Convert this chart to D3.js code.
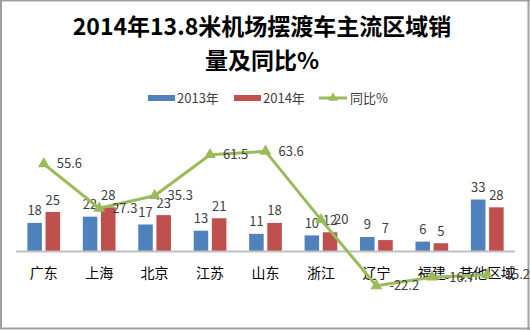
<!DOCTYPE html>
<html><head><meta charset="utf-8">
<script src="https://cdn.jsdelivr.net/npm/d3@7/dist/d3.min.js"></script>
<style>html,body{margin:0;padding:0;background:#fff;}svg{display:block;}</style>
</head><body>
<script>
const categories = ["广东","上海","北京","江苏","山东","浙江","辽宁","福建","其他区域"];
const sales2013 = [18,22,17,13,11,10,9,6,33];
const sales2014 = [25,28,23,21,18,12,7,5,28];
const yoy = [55.6,27.3,35.3,61.5,63.6,20,-22.2,-16.7,-15.2];
const seriesNames = ["2013年","2014年","同比%"];
const titleLines = ["2014年13.8米机场摆渡车主流区域销","量及同比%"];

const W=530,H=330;
const colors={"2013年":"#4F81BD","2014年":"#C0504D","同比%":"#9BBB59"};
const font="'Noto Sans CJK SC','Noto Sans',sans-serif";
const svg=d3.select("body").append("svg").attr("width",W).attr("height",H);
svg.append("rect").attr("width",W).attr("height",H).attr("fill","#fff");
// border
svg.append("path").attr("d","M1,0V329M0,0.5H530M528.5,0V330M0,328.5H530").attr("stroke","#a0a0a0").attr("stroke-width",2).attr("fill","none");

// title
svg.append("g").selectAll("text").data(titleLines).join("text")
  .attr("x",262).attr("y",(d,i)=>35+i*34).attr("text-anchor","middle")
  .attr("font-family",font).attr("font-weight","bold").attr("font-size",23).attr("fill","#000")
  .text(d=>d);

const x0=d3.scaleBand().domain(categories).range([16,515]);
const bw=x0.bandwidth();
const x1=d3.scaleBand().domain(["2013年","2014年"]).range([0.205*bw,0.795*bw]).paddingInner(0.2);
const yBar=d3.scaleLinear().domain([0,40]).range([251,188.6]);
const yLine=d3.scaleLinear().domain([0,80]).range([251,125.7]);

const rows=categories.map((c,i)=>({c,vals:[{k:"2013年",v:sales2013[i]},{k:"2014年",v:sales2014[i]}]}));
const g=svg.append("g");
const grp=g.selectAll("g.cat").data(rows).join("g").attr("transform",d=>`translate(${x0(d.c)},0)`);
grp.selectAll("rect").data(d=>d.vals).join("rect")
  .attr("x",d=>x1(d.k)).attr("width",x1.bandwidth())
  .attr("y",d=>yBar(d.v)).attr("height",d=>yBar(0)-yBar(d.v))
  .attr("fill",d=>colors[d.k]);

// axis baseline
svg.append("line").attr("x1",16).attr("x2",515).attr("y1",yBar(0)+0.5).attr("y2",yBar(0)+0.5)
  .attr("stroke","#c0c0c0").attr("stroke-width",2);

// category labels
const xAxis=d3.axisBottom(x0).tickSize(0).tickPadding(0);
const ax=svg.append("g").attr("transform","translate(0,267)").call(xAxis);
ax.select(".domain").remove();
ax.selectAll("text").attr("font-family",font).attr("font-size",14).attr("fill","#000").attr("dy","0.35em").attr("y",6);

// bar labels
grp.selectAll("text").data(d=>d.vals).join("text")
  .attr("x",d=>x1(d.k)+x1.bandwidth()/2).attr("y",d=>yBar(d.v)-7.5)
  .attr("text-anchor","middle").attr("font-family",font).attr("font-size",13).attr("fill","#404040")
  .text(d=>d.v);

// line
const cx=c=>x0(c)+bw/2;
const lineData=categories.map((c,i)=>({c,v:yoy[i]}));
svg.append("path").datum(lineData)
  .attr("d",d3.line().x(d=>cx(d.c)).y(d=>yLine(d.v)))
  .attr("fill","none").attr("stroke",colors["同比%"]).attr("stroke-width",3).attr("stroke-linejoin","round");
const tri=d3.symbol().type(d3.symbolTriangle).size(60);
svg.append("g").selectAll("path").data(lineData).join("path")
  .attr("d",tri).attr("transform",d=>`translate(${cx(d.c)},${yLine(d.v)})`).attr("fill",colors["同比%"]);
svg.append("g").selectAll("text").data(lineData).join("text")
  .attr("x",d=>cx(d.c)+13).attr("y",d=>yLine(d.v)).attr("dy","0.35em")
  .attr("font-family",font).attr("font-size",13).attr("fill","#404040").text(d=>d.v);

// legend
const lg=svg.append("g");
const lx=[148,234,319];
seriesNames.forEach((s,i)=>{
  if(i<2){
    lg.append("rect").attr("x",lx[i]).attr("y",95).attr("width",27).attr("height",6).attr("fill",colors[s]);
  } else {
    lg.append("line").attr("x1",lx[i]).attr("x2",lx[i]+28).attr("y1",98).attr("y2",98).attr("stroke",colors[s]).attr("stroke-width",3);
    lg.append("path").attr("d",d3.symbol().type(d3.symbolTriangle).size(40)).attr("transform",`translate(${lx[i]+14},98)`).attr("fill",colors[s]);
  }
  lg.append("text").attr("x",lx[i]+(i<2?29:31)).attr("y",98).attr("dy","0.35em")
    .attr("font-family",font).attr("font-size",13).attr("fill","#404040").text(s);
});
</script>
</body></html>
